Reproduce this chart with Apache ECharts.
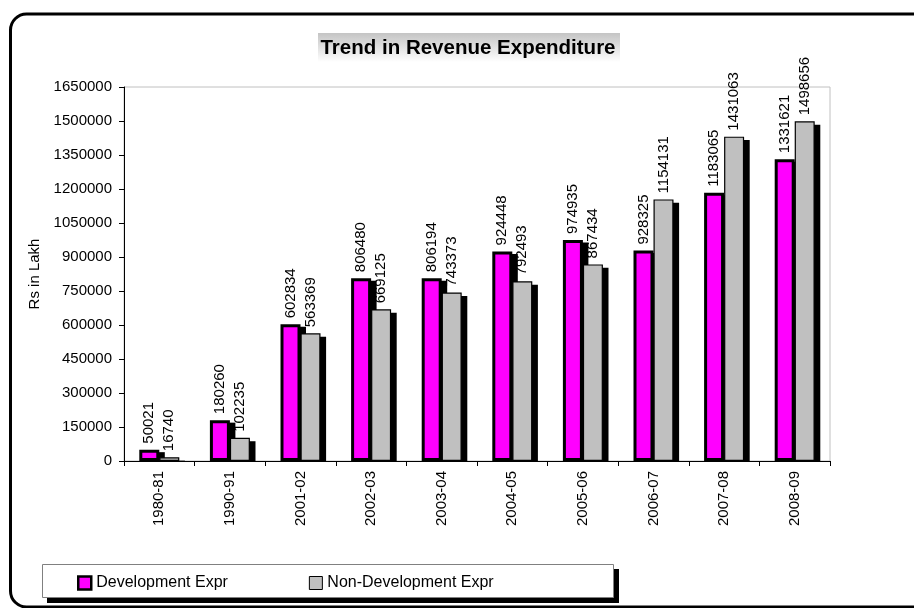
<!DOCTYPE html>
<html>
<head>
<meta charset="utf-8">
<title>Trend in Revenue Expenditure</title>
<script src="https://cdn.jsdelivr.net/npm/echarts@6/dist/echarts.min.js"></script>
<style>
  html, body { margin: 0; padding: 0; background: #ffffff; }
  #chart { width: 914px; height: 608px; }
</style>
</head>
<body>
<div id="chart"></div>
<script>
// Financial years on the category axis
const years = ['1980-81', '1990-91', '2001-02', '2002-03', '2003-04',
               '2004-05', '2005-06', '2006-07', '2007-08', '2008-09'];

// Revenue expenditure, Rs in Lakh
const developmentExpr = [50021, 180260, 602834, 806480, 806194,
                         924448, 974935, 928325, 1183065, 1331621];
const nonDevelopmentExpr = [16740, 102235, 563369, 669125, 743373,
                            792493, 867434, 1154131, 1431063, 1498656];

// Value axis ticks
const yMin = 0;
const yMax = 1650000;
const yStep = 150000;

const seriesNames = ['Development Expr', 'Non-Development Expr'];

const FONT = '"Liberation Sans", Arial, sans-serif';
const BAR_W = 20;

const chart = echarts.init(document.getElementById('chart'), null, { renderer: 'canvas' });

const barLabel = {
  show: true,
  position: 'top',
  rotate: 90,
  align: 'left',
  verticalAlign: 'middle',
  distance: 6,
  fontFamily: FONT,
  fontSize: 15,
  color: '#000'
};

// Solid drop shadow behind each bar, placed with the axis scales.
// side: -1 for the left bar of a pair, +1 for the right one.
function shadowSeries(values, side, pad, dx, dy) {
  return {
    type: 'custom',
    z: 1,
    silent: true,
    data: values.map((v, i) => [i, v]),
    encode: { x: 0, y: 1 },
    renderItem: function (params, api) {
      const top = api.coord([api.value(0), api.value(1)]);
      const base = api.coord([api.value(0), 0]);
      const left = side < 0 ? top[0] - BAR_W : top[0];
      const y0 = top[1] - pad + dy;
      const h = Math.max(0, base[1] - y0);
      return {
        type: 'rect',
        shape: { x: left - pad + dx, y: y0, width: BAR_W + 2 * pad, height: h },
        style: { fill: '#000' }
      };
    }
  };
}

chart.setOption({
  animation: false,
  backgroundColor: '#ffffff',
  textStyle: { fontFamily: FONT },
  graphic: [
    {
      // rounded outer frame
      type: 'rect',
      z: 0,
      silent: true,
      shape: { x: 10.5, y: 14, width: 940, height: 593, r: 16 },
      style: { fill: 'transparent', stroke: '#000', lineWidth: 3 }
    },
    {
      // shaded title box
      type: 'rect',
      z: 1,
      silent: true,
      shape: { x: 318, y: 33, width: 302, height: 29 },
      style: {
        fill: new echarts.graphic.LinearGradient(0, 0, 0, 1, [
          { offset: 0, color: '#c4c4c4' },
          { offset: 1, color: '#ffffff' }
        ])
      }
    },
    {
      type: 'text',
      z: 2,
      silent: true,
      x: 468,
      y: 48,
      style: {
        text: 'Trend in Revenue Expenditure',
        fontFamily: FONT,
        fontSize: 20.5,
        fontWeight: 'bold',
        fill: '#000',
        align: 'center',
        verticalAlign: 'middle'
      }
    },
    {
      // legend box shadow
      type: 'rect',
      z: 1,
      silent: true,
      shape: { x: 47, y: 569, width: 572, height: 34 },
      style: { fill: '#000' }
    },
    {
      // legend box
      type: 'rect',
      z: 2,
      silent: true,
      shape: { x: 42.5, y: 564.5, width: 571, height: 33 },
      style: { fill: '#ffffff', stroke: '#808080', lineWidth: 1 }
    }
  ],
  legend: {
    z: 5,
    left: 77,
    top: 575,
    itemWidth: 13,
    itemHeight: 13,
    itemGap: 81,
    padding: 0,
    icon: 'rect',
    textStyle: { fontFamily: FONT, fontSize: 16, color: '#000' },
    data: [
      {
        name: seriesNames[0],
        itemStyle: { color: '#ff00ff', borderColor: '#000', borderWidth: 2.5 }
      },
      {
        name: seriesNames[1],
        itemStyle: { color: '#c0c0c0', borderColor: '#000', borderWidth: 1 }
      }
    ]
  },
  grid: {
    left: 124,
    right: 84,
    top: 87,
    bottom: 147,
    show: true,
    borderColor: '#c0c0c0',
    borderWidth: 1,
    backgroundColor: 'transparent'
  },
  xAxis: {
    type: 'category',
    data: years,
    boundaryGap: true,
    axisLine: { lineStyle: { color: '#000', width: 1 } },
    axisTick: { show: true, length: 5, inside: false, alignWithLabel: false,
                lineStyle: { color: '#000' } },
    axisLabel: {
      rotate: 90,
      margin: 10,
      fontFamily: FONT,
      fontSize: 15,
      color: '#000',
      interval: 0
    },
    splitLine: { show: false }
  },
  yAxis: {
    type: 'value',
    min: yMin,
    max: yMax,
    interval: yStep,
    name: 'Rs in Lakh',
    nameLocation: 'middle',
    nameGap: 78,
    nameRotate: 90,
    nameTextStyle: { fontFamily: FONT, fontSize: 15, color: '#000' },
    axisLine: { show: true, lineStyle: { color: '#000', width: 1 } },
    axisTick: { show: true, length: 5, lineStyle: { color: '#000' } },
    axisLabel: {
      margin: 12,
      fontFamily: FONT,
      fontSize: 15,
      color: '#000',
      formatter: function (v) { return String(v); }
    },
    splitLine: { show: false }
  },
  series: [
    shadowSeries(developmentExpr, -1, 1.5, 4, 4),
    shadowSeries(nonDevelopmentExpr, 1, 0.6, 5, 4),
    {
      name: seriesNames[0],
      type: 'bar',
      z: 2,
      data: developmentExpr,
      barWidth: BAR_W,
      barGap: '0%',
      itemStyle: { color: '#ff00ff', borderColor: '#000', borderWidth: 3 },
      label: barLabel
    },
    {
      name: seriesNames[1],
      type: 'bar',
      z: 2,
      data: nonDevelopmentExpr,
      barWidth: BAR_W,
      barGap: '0%',
      itemStyle: { color: '#c0c0c0', borderColor: '#000', borderWidth: 1.2 },
      label: barLabel
    }
  ]
});
</script>
</body>
</html>
